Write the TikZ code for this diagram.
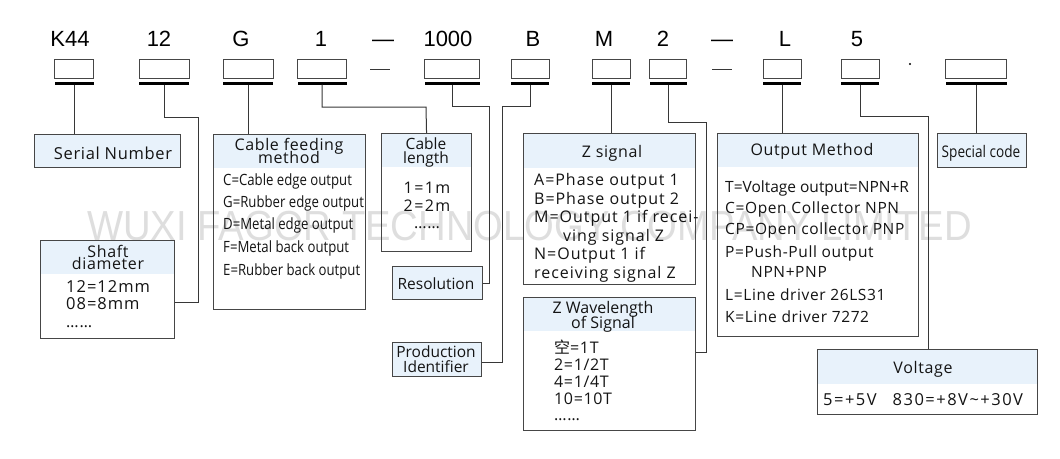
\documentclass[tikz,border=0pt]{standalone}
\usepackage{fontspec}
\setmainfont{Open Sans}
\newfontfamily\topf{Liberation Sans}
\newfontfamily\wf[LetterSpace=4]{Open Sans}
\newfontfamily\wwf[LetterSpace=6]{Open Sans}
\newfontfamily\xwf[LetterSpace=9]{Open Sans}
\newfontfamily\cf[FakeStretch=0.85]{Open Sans}
\newfontfamily\wmf[FakeStretch=0.91]{Liberation Sans}
\newfontfamily\cjk{Noto Sans CJK SC}
\newcommand\myfs[1]{\fontsize{#1}{#1}\selectfont}
\definecolor{bcol}{RGB}{70,70,70}
\definecolor{lcol}{RGB}{55,55,55}
\definecolor{hb}{RGB}{232,242,251}
\definecolor{wmc}{RGB}{222,222,222}
\definecolor{tc}{RGB}{20,20,20}
\begin{document}
\begin{tikzpicture}[x=1pt,y=-1pt,
  box/.style={draw=bcol, line width=1.1pt, inner sep=0, anchor=north west},
  hdr/.style={path picture={\fill[hb] (path picture bounding box.north west) rectangle ([yshift=-#1]path picture bounding box.north east);}},
  slot/.style={draw=bcol, line width=1pt, minimum height=19, minimum width=#1, inner sep=0},
  bar/.style={fill=black, minimum height=3, minimum width=#1, inner sep=0},
  conn/.style={draw=lcol, line width=1pt},
  toplab/.style={inner sep=0, anchor=base, font=\topf\myfs{22}},
  txt/.style={inner sep=0, anchor=base west, text=tc},
  ctxt/.style={inner sep=0, anchor=base, text=tc}]
\useasboundingbox[fill=white] (0,0) rectangle (1060,458);

% watermark
\node[inner sep=0, anchor=base west, text=wmc, font=\wmf\myfs{42}] (wm) at (87,240) {WUXI FAGOR TECHNOLOGY COMPANY LIMITED};

% top labels
\node[toplab] (l1) at (70,46) {K44};
\node[toplab] (l2) at (159,46) {12};
\node[toplab] (l3) at (241,46) {G};
\node[toplab] (l4) at (321,46) {1};
\node[toplab] (ld1) at (383,46) {—};
\node[toplab] (l5) at (448,46) {1000};
\node[toplab] (l6) at (533,46) {B};
\node[toplab] (l7) at (604,46) {M};
\node[toplab] (l8) at (663,46) {2};
\node[toplab] (ld2) at (722,46) {—};
\node[toplab] (l9) at (785,46) {L};
\node[toplab] (l10) at (857,46) {5};

% slots and bars
\foreach \n/\x/\w in {1/74/39, 2/164/50, 3/248/50, 4/322/49, 5/452/55, 6/530/38, 7/611/38, 8/668/37, 9/782/38, 10/860/38, 11/976/61} {
  \node[slot=\w] (s\n) at (\x,68.5) {};
  \node[bar=\w] (b\n) at (\x,83) {};
}
\coordinate (d1a) at (370,69); \coordinate (d1b) at (390,69);
\coordinate (d2a) at (712,69); \coordinate (d2b) at (732,69);
\draw[lcol, line width=0.8pt] (d1a) -- (d1b);
\draw[lcol, line width=0.8pt] (d2a) -- (d2b);
\fill[black] (910,64) circle (1.2);

% boxes
\node[box, fill=hb, minimum width=146, minimum height=33] (serial) at (34,134) {};
\node[box, hdr=33pt, minimum width=134, minimum height=98] (shaft) at (40,240) {};
\node[box, hdr=33pt, minimum width=152, minimum height=175] (cable) at (213,134) {};
\node[box, hdr=33pt, minimum width=90, minimum height=118] (clen) at (381,133) {};
\node[box, fill=hb, minimum width=90, minimum height=33] (res) at (392,266) {};
\node[box, fill=hb, minimum width=89, minimum height=34] (prod) at (392,342) {};
\node[box, hdr=34pt, minimum width=172, minimum height=151] (zsig) at (523,133) {};
\node[box, hdr=33pt, minimum width=172, minimum height=133] (zwave) at (523,297) {};
\node[box, hdr=33pt, minimum width=201, minimum height=203] (outm) at (717,133) {};
\node[box, fill=hb, minimum width=89, minimum height=34] (spec) at (937,133) {};
\node[box, hdr=34pt, minimum width=220, minimum height=65] (volt) at (817,349) {};

% connectors
\coordinate (k2) at (198,117);
\coordinate (k4) at (426,107);
\coordinate (k5) at (489,106);
\coordinate (k6) at (502,106);
\coordinate (k8) at (706,122);
\coordinate (k10) at (928,116);
\draw[conn] (b1.south) -- (b1.south |- serial.north);
\draw[conn] (b2.south) |- (k2) |- ([yshift=-13pt]shaft.east);
\draw[conn] (b3.south) -- (b3.south |- cable.north);
\draw[conn] (b4.south) |- (k4) -- (clen.north);
\draw[conn] (b5.south) |- (k5) |- (res.east);
\draw[conn] (b6.south) |- (k6) |- ([yshift=-3pt]prod.east);
\draw[conn] (b7.south) -- (b7.south |- zsig.north);
\draw[conn] (b8.south) |- (k8) |- ([yshift=12pt]zwave.east);
\draw[conn] (b9.south) -- (b9.south |- outm.north);
\draw[conn] (b10.south) |- (k10) -- (k10 |- volt.north);
\draw[conn] (b11.south) -- (b11.south |- spec.north);

% texts
\node[ctxt, font=\wf\myfs{16.5}] (tserial) at (113,159) {Serial Number};

\node[ctxt, font=\wf\myfs{16}] (tsh1) at (108,257) {Shaft};
\node[ctxt, font=\wf\myfs{16}] (tsh2) at (108,269) {diameter};
\node[txt, font=\wwf\myfs{16.5}] (tsh3) at (66,292) {12=12mm};
\node[txt, font=\wwf\myfs{16.5}] (tsh4) at (66,309) {08=8mm};
\node[txt, font=\wwf\myfs{16}] (tsh5) at (66,327) {……};

\node[ctxt, font=\wf\myfs{16}] (tcf1) at (289,150) {Cable feeding};
\node[ctxt, font=\wf\myfs{16}] (tcf2) at (289,163) {method};
\node[txt, font=\cf\myfs{15.5}] (tcf3) at (223,185) {C=Cable edge output};
\node[txt, font=\cf\myfs{15.5}] (tcf4) at (223,207) {G=Rubber edge output};
\node[txt, font=\cf\myfs{15.5}] (tcf5) at (223,229) {D=Metal edge output};
\node[txt, font=\cf\myfs{15.5}] (tcf6) at (223,252) {F=Metal back output};
\node[txt, font=\cf\myfs{15.5}] (tcf7) at (223,275) {E=Rubber back output};

\node[ctxt, font=\myfs{15.5}] (tcl1) at (426,149) {Cable};
\node[ctxt, font=\myfs{15.5}] (tcl2) at (426,163) {length};
\node[ctxt, font=\xwf\myfs{16}] (tcl3) at (427,193) {1=1m};
\node[ctxt, font=\xwf\myfs{16}] (tcl4) at (427,211) {2=2m};
\node[ctxt, font=\wf\myfs{16}] (tcl5) at (427,228) {……};

\node[ctxt, font=\myfs{15.5}] (tres) at (436,289) {Resolution};
\node[ctxt, font=\myfs{15.5}] (tpr1) at (436,357) {Production};
\node[ctxt, font=\myfs{15.5}] (tpr2) at (436,372) {Identifier};

\node[ctxt, font=\wf\myfs{16}] (tzs) at (612,157) {Z signal};
\node[txt, font=\wwf\myfs{16}] (tzs1) at (534,185) {A=Phase output 1};
\node[txt, font=\wwf\myfs{16}] (tzs2) at (534,204) {B=Phase output 2};
\node[txt, font=\wwf\myfs{16}] (tzs3) at (534,222) {M=Output 1 if recei-};
\node[txt, font=\wwf\myfs{16}] (tzs4) at (563,241) {ving signal Z};
\node[txt, font=\wwf\myfs{16}] (tzs5) at (534,259) {N=Output 1 if};
\node[txt, font=\wwf\myfs{16}] (tzs6) at (534,278) {receiving signal Z};

\node[ctxt, font=\myfs{16}] (tzw1) at (603,313) {Z Wavelength};
\node[ctxt, font=\myfs{16}] (tzw2) at (603,328) {of Signal};
\node[txt, font=\wf\myfs{16}] (tzw3) at (554,353) {{\cjk 空}=1T};
\node[txt, font=\wf\myfs{16}] (tzw4) at (554,370) {2=1/2T};
\node[txt, font=\wf\myfs{16}] (tzw5) at (554,387) {4=1/4T};
\node[txt, font=\wf\myfs{16}] (tzw6) at (554,404) {10=10T};
\node[txt, font=\wf\myfs{16}] (tzw7) at (554,420) {……};

\node[ctxt, font=\wf\myfs{16}] (tom) at (812,155) {Output Method};
\node[txt, font=\myfs{15.5}] (tom1) at (725,192) {T=Voltage output=NPN+R};
\node[txt, font=\wf\myfs{15.5}] (tom2) at (725,213) {C=Open Collector NPN};
\node[txt, font=\wf\myfs{15.5}] (tom3) at (725,234) {CP=Open collector PNP};
\node[txt, font=\wf\myfs{15.5}] (tom4) at (725,257) {P=Push-Pull output};
\node[txt, font=\wf\myfs{15.5}] (tom5) at (751,277) {NPN+PNP};
\node[txt, font=\wf\myfs{15.5}] (tom6) at (725,300) {L=Line driver 26LS31};
\node[txt, font=\wf\myfs{15.5}] (tom7) at (725,322) {K=Line driver 7272};

\node[ctxt, font=\cf\myfs{16}] (tsp) at (981,157) {Special code};

\node[ctxt, font=\wf\myfs{16}] (tv) at (923,373) {Voltage};
\node[txt, font=\xwf\myfs{16.5}] (tv1) at (823,405) {5=+5V\hspace{16pt}830=+8V\char"007E+30V};
\end{tikzpicture}
\end{document}
